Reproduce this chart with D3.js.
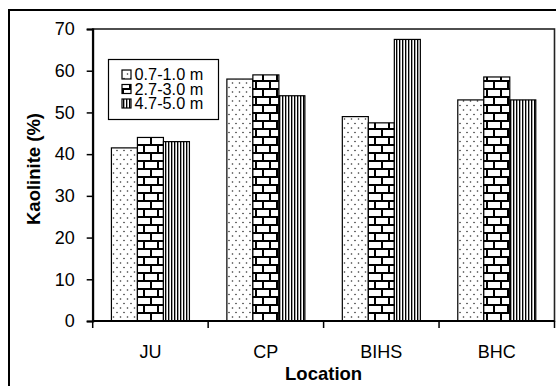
<!DOCTYPE html>
<html><head><meta charset="utf-8">
<script src="https://cdn.jsdelivr.net/npm/d3@7"></script>
<style>
body{margin:0;background:#fff;}
svg{display:block;font-family:"Liberation Sans",Arial,sans-serif;}
</style></head>
<body><svg id="c" width="556" height="386"></svg>
<script>
const categories = ["JU","CP","BIHS","BHC"];
const seriesNames = ["0.7-1.0 m","2.7-3.0 m","4.7-5.0 m"];
const s1 = [41.5, 58, 49, 53];
const s2 = [44, 59, 47.5, 58.5];
const s3 = [43, 54, 67.5, 53];
const yTicks = [0,10,20,30,40,50,60,70];

const svg = d3.select("#c");
const defs = svg.append("defs");

// dotted pattern
const pd = defs.append("pattern").attr("id","pDot").attr("patternUnits","userSpaceOnUse")
  .attr("width",7).attr("height",9);
pd.append("rect").attr("width",7).attr("height",9).attr("fill","#fff");
pd.append("circle").attr("cx",1.5).attr("cy",2).attr("r",0.8).attr("fill","#333");
pd.append("circle").attr("cx",5).attr("cy",6.5).attr("r",0.8).attr("fill","#333");

// brick pattern
const pb = defs.append("pattern").attr("id","pBrick").attr("patternUnits","userSpaceOnUse")
  .attr("width",14).attr("height",16);
pb.append("rect").attr("width",14).attr("height",16).attr("fill","#fff");
pb.append("path").attr("d","M0,1 H14 M0,9 H14 M4,1 V9 M11,9 V17")
  .attr("stroke","#000").attr("stroke-width",2).attr("fill","none");

// vertical stripes
const pv = defs.append("pattern").attr("id","pVert").attr("patternUnits","userSpaceOnUse")
  .attr("width",3).attr("height",3);
pv.append("rect").attr("width",3).attr("height",3).attr("fill","#fff");
pv.append("rect").attr("x",0).attr("width",1.2).attr("height",3).attr("fill","#000");
pv.append("rect").attr("x",1.2).attr("width",0.6).attr("height",3).attr("fill","#888");

const fills = ["url(#pDot)","url(#pBrick)","url(#pVert)"];

// outer border
svg.append("rect").attr("x",9).attr("y",10).attr("width",560).attr("height",400)
  .attr("fill","none").attr("stroke","#000").attr("stroke-width",2);

const L = 92.7, R = 554.5, T = 29, B = 321;
const x = d3.scaleBand().domain(categories).range([L,R]).paddingInner(0).paddingOuter(0);
const y = d3.scaleLinear().domain([0,70]).range([B,T]);
const xs = d3.scaleBand().domain(seriesNames).range([0, 78]);
const groupOff = (x.bandwidth()-78)/2;

// plot frame
svg.append("rect").attr("x",L).attr("y",T).attr("width",R-L).attr("height",B-T)
  .attr("fill","none").attr("stroke","#222").attr("stroke-width",1.6);

const data = [s1,s2,s3];
categories.forEach((c,i)=>{
  data.forEach((s,j)=>{
    svg.append("rect")
      .attr("x", x(c)+groupOff+xs(seriesNames[j]))
      .attr("y", y(s[i]))
      .attr("width", xs.bandwidth())
      .attr("height", y(0)-y(s[i]))
      .attr("fill", fills[j]).attr("stroke","#000").attr("stroke-width",1.2);
  });
});

// y axis
const ya = svg.append("g").attr("transform",`translate(${L},0)`)
  .call(d3.axisLeft(y).tickValues(yTicks).tickSize(6).tickPadding(12).tickFormat(d3.format("d")));
ya.select(".domain").attr("stroke","#000").attr("stroke-width",2);
ya.selectAll(".tick line").attr("stroke","#000").attr("stroke-width",1.5);
ya.selectAll("text").attr("font-size",18).attr("fill","#000").attr("font-family","Liberation Sans, Arial, sans-serif");

// x axis (ticks at band boundaries)
const xa = svg.append("g").attr("transform",`translate(0,${B})`);
xa.append("line").attr("x1",L).attr("x2",R).attr("stroke","#000").attr("stroke-width",2);
const bounds = categories.map(c=>x(c)).concat([x(categories[categories.length-1])+x.bandwidth()]);
xa.selectAll("line.t").data(bounds).enter().append("line").attr("class","t")
  .attr("x1",d=>d).attr("x2",d=>d).attr("y1",0).attr("y2",7).attr("stroke","#000").attr("stroke-width",1.5);
xa.selectAll("text").data(categories).enter().append("text")
  .attr("x",d=>x(d)+x.bandwidth()/2).attr("y",37).attr("text-anchor","middle")
  .attr("font-size",18).text(d=>d);

// axis titles
svg.append("text").attr("x",(L+R)/2).attr("y",380).attr("text-anchor","middle")
  .attr("font-size",18.5).attr("font-weight","bold").text("Location");
svg.append("text").attr("transform","translate(40,169) rotate(-90)").attr("text-anchor","middle")
  .attr("font-size",18.5).attr("font-weight","bold").text("Kaolinite (%)");

// legend
const lg = svg.append("g");
lg.append("rect").attr("x",108.5).attr("y",59.5).attr("width",110).attr("height",60)
  .attr("fill","#fff").attr("stroke","#000").attr("stroke-width",1.2);
seriesNames.forEach((n,j)=>{
  const cy = 74.5 + j*14.5;
  lg.append("rect").attr("x",122).attr("y",cy-4.5).attr("width",9).attr("height",9)
    .attr("fill",fills[j]).attr("stroke","#000").attr("stroke-width",1.2);
  lg.append("text").attr("x",134.5).attr("y",cy+5.5).attr("font-size",16.3).text(n);
});
</script></body></html>
